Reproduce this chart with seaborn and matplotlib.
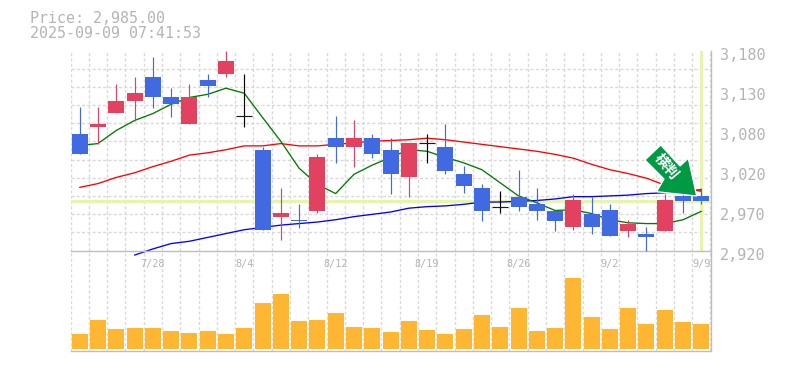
import numpy as np
import pandas as pd
import matplotlib
matplotlib.use("Agg")
import matplotlib.pyplot as plt
from matplotlib.patches import Polygon
from matplotlib.transforms import ScaledTranslation
import seaborn as sns

opens  = [3071,3080,3099,3114,3146,3120,3084,3141,3149,3095,3050,2963,2960,2971,3066,3054,3066,3050,3015,3060,3055,3020,3001,2977,2990,2981,2971,2950,2968,2973,2945,2942,2945,2991,2991]
highs  = [3106,3106,3136,3146,3171,3131,3136,3150,3180,3150,3055,3001,2981,3046,3095,3090,3071,3066,3060,3071,3085,3030,3006,2998,3025,3001,2971,2994,2990,2981,2960,2951,2994,2998,3001]
lows   = [3045,3059,3099,3088,3105,3094,3084,3119,3145,3080,2947,2934,2949,2969,3034,3029,3040,2993,2990,3034,3019,2995,2958,2969,2971,2960,2946,2947,2942,2939,2937,2920,2945,2969,2980]
closes = [3045,3085,3115,3125,3119,3110,3120,3134,3166,3095,2947,2969,2958,3041,3054,3066,3045,3019,3060,3060,3024,3004,2972,2977,2977,2972,2958,2985,2951,2939,2955,2938,2985,2985,2985]
volume = [15,29,20,21,21,18,16,18,15,21,46,55,28,29,36,22,21,17,28,19,15,20,34,22,41,18,21,71,32,20,41,25,39,27,25]
ma_short = [3056.5,3059,3076,3089,3098,3110,3119,3123,3131,3124.5,3093,3062,3027,3006,2994,3019,3031,3041,3051,3049,3041,3034,3025,3008,2991,2982,2972,2973,2968,2960,2956,2955,2955,2960,2971]
ma_mid = [3002,3007,3015,3021,3029,3036,3044,3047,3051,3056,3056,3059,3056,3056,3058,3060,3062,3063,3064,3066,3064,3061,3058,3055,3052,3049,3045,3040,3032,3025,3020,3014,3005,3001,2997]
ma_long = [np.nan,np.nan,np.nan,2914,2922,2929,2932,2937,2942,2947,2950,2953,2955,2957,2960,2964,2967,2970,2975,2977,2978,2980,2983,2983,2984,2985,2987,2990,2990,2991,2992,2994,2995,2997,2999]
date_ticks = [4,9,14,19,24,29,34]
date_labels = ["7/28","8/4","8/12","8/19","8/26","9/2","9/9"]
price_labels = ["3,180","3,130","3,080","3,020","2,970","2,920"]
current_price = 2985.0

BLUE, RED, GREY, GRID, HILITE = "#4169E1", "#E2425F", "#B4B4B4", "#D9D9D9", "#E6F5AC"
W, H = 785, 370
sns.set_theme(style="white")
plt.rcParams["font.family"] = ["DejaVu Sans Mono"]
fig = plt.figure(figsize=(W/100, H/100), dpi=100)
def box(x0, y0, x1, y1):
    return [x0/W, 1-y1/H, (x1-x0)/W, (y1-y0)/H]
ax = fig.add_axes(box(70.5, 50.5, 710.5, 250.5), zorder=2)
axv = fig.add_axes(box(70.5, 250.5, 710.5, 350.5), zorder=1)
ax.patch.set_visible(False)
n = len(closes)
idx = np.arange(n)
edges = np.arange(n+1)-0.5
DASH = (0, (2.2, 1.6))
for a in (ax, axv):
    a.set_xlim(-0.5, n-0.5)
    a.set_xticks(edges, minor=True)
    a.grid(True, which="minor", axis="x", color=GRID, lw=1.0, ls=DASH)
    a.set_axisbelow(True)
    for s in a.spines.values():
        s.set_visible(False)
    a.spines["right"].set_visible(True)
    a.spines["bottom"].set_visible(True)
    a.spines["right"].set_color("#BDBDBD")
    a.spines["bottom"].set_color("#BDBDBD")
    a.spines["right"].set_linewidth(1.0)
    a.spines["bottom"].set_linewidth(1.0)
    a.tick_params(which="both", length=0)

ax.set_ylim(2920, 3180)
grid_y = np.linspace(2920, 3180, 12)
ax.set_yticks(grid_y, minor=True)
ax.grid(True, which="minor", axis="y", color=GRID, lw=1.0, ls=DASH)
ax.yaxis.tick_right()
ax.set_yticks(np.linspace(3180, 2920, 6))
ax.set_yticklabels(price_labels, fontsize=10.9, color=GREY)
ax.tick_params(axis="y", which="major", pad=7)
for lab in ax.get_yticklabels():
    lab.set_transform(lab.get_transform() + ScaledTranslation(0, -3/72*0.72, fig.dpi_scale_trans))
ax.set_xticks(date_ticks)
ax.set_xticklabels(date_labels, fontsize=7.3, color=GREY)
ax.tick_params(axis="x", which="major", pad=5.8)

ax.axhline(current_price, color=HILITE, lw=2.2, zorder=1)
ax.axvline(n-1, color=HILITE, lw=2.2, zorder=1)

df = pd.DataFrame({"i": idx, "short": ma_short, "mid": ma_mid, "long": ma_long})
for col, c in (("long", "#0000FF"), ("mid", "#FF0000"), ("short", "#007A00")):
    sns.lineplot(data=df, x="i", y=col, color=c, lw=0.95, ax=ax, zorder=2, clip_on=False, errorbar=None)
ax.set_xlabel(""); ax.set_ylabel("")

o, h, l, c = map(np.array, (opens, highs, lows, closes))
colors = np.where(c > o, RED, np.where(c < o, BLUE, "#000000"))
ax.vlines(idx, l, h, colors=colors, lw=0.85, zorder=3, clip_on=False)
ax.bar(idx, np.abs(c-o), bottom=np.minimum(o, c), width=0.875, color=colors, lw=0, zorder=4)
doji = c == o
ax.hlines(c[doji], idx[doji]-0.4375, idx[doji]+0.4375, colors="k", lw=0.85, zorder=4)

# signal arrow, placed relative to the last candles
ARROW = "#009944"
def px(x, y):
    return ((x-70.5)/640*n-0.5, 3180-(y-50.5)*1.3)
pts = [(660.7,145),(645,160),(664,179),(656.7,191.7),(696.7,196),(688.3,158.3),(680,166)]
ax.add_patch(Polygon([px(*p) for p in pts], closed=True, fc=ARROW, ec="white", lw=0.9, zorder=6, joinstyle="miter"))
tx, ty = px(667, 166.5)
ax.text(tx, ty, "横判", rotation=-50, rotation_mode="anchor", ha="center", va="center", color="white",
        fontsize=10.5, fontweight="bold", family=["Noto Sans CJK JP", "DejaVu Sans"], zorder=7)

vol_df = pd.DataFrame({"i": idx, "v": volume})
sns.barplot(data=vol_df, x="i", y="v", native_scale=True, color="#FFB733", saturation=1, width=0.875, ax=axv, zorder=3, lw=0)
axv.set_xlim(-0.5, n-0.5)
axv.set_ylim(-2, 98)
axv.set_yticks([]); axv.set_xticks([])
axv.set_xticks(edges, minor=True)
axv.set_xlabel(""); axv.set_ylabel("")

fig.text(30/W, 1-18.5/H, f"Price: {current_price:,.2f}", fontsize=10.8, color=GREY, va="center", ha="left")
fig.text(30/W, 1-33.5/H, "2025-09-09 07:41:53", fontsize=10.8, color=GREY, va="center", ha="left")
fig.savefig("out.png", dpi=100)
